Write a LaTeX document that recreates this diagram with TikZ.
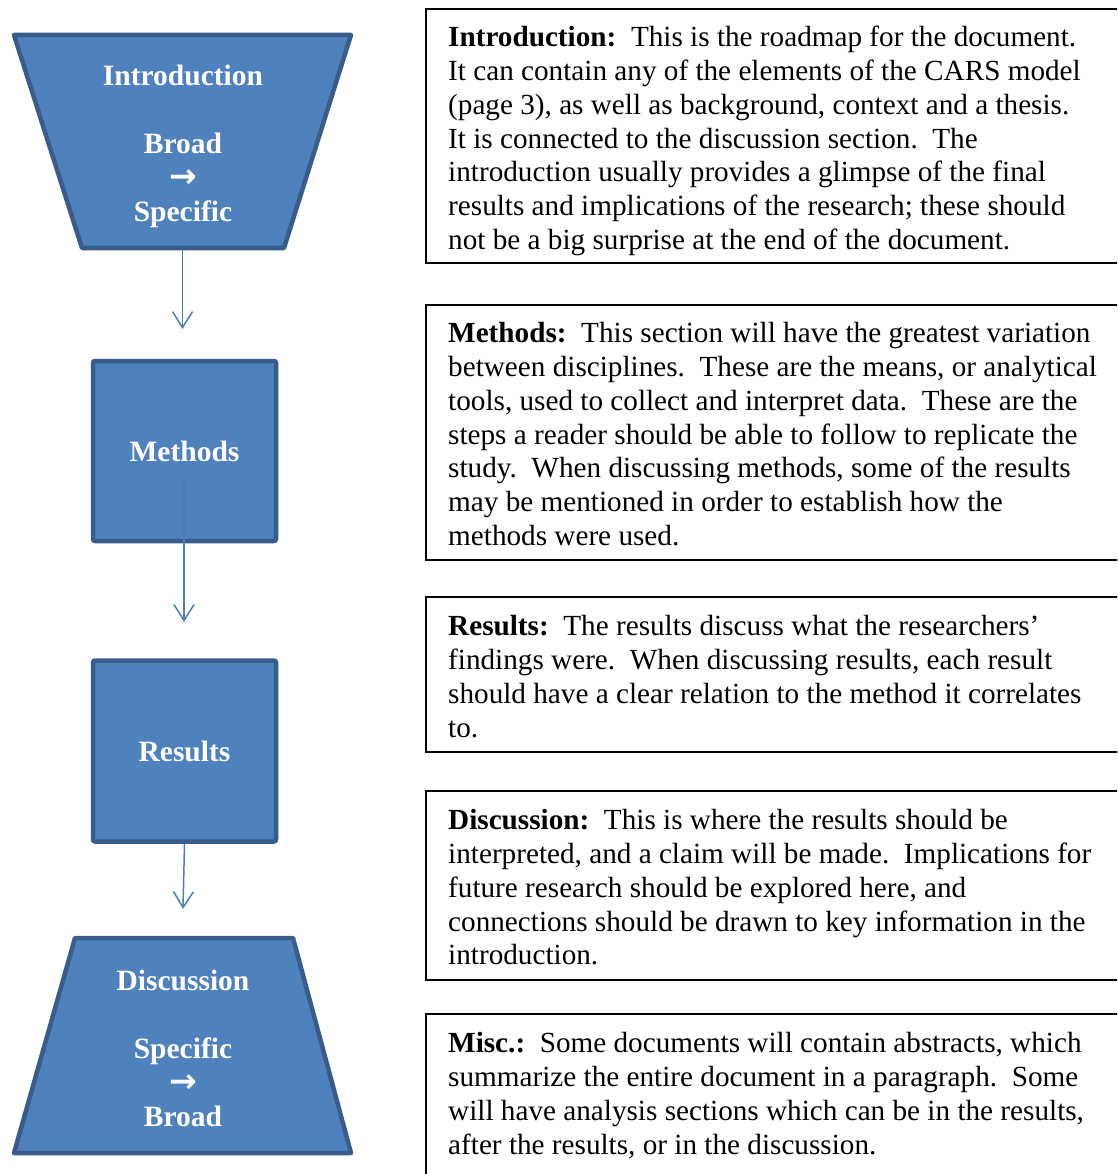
\documentclass[tikz,border=0pt]{standalone}
\usepackage{fontspec}
\setmainfont{Liberation Serif}
\newfontfamily\arrowfont{DejaVu Sans}
\usetikzlibrary{arrows.meta}
\definecolor{shapefill}{HTML}{4F81BD}
\definecolor{shapeedge}{HTML}{385D8A}
\definecolor{connblue}{HTML}{4A7EBB}
\newcommand{\flowarrow}{{\arrowfont\bfseries\fontsize{33}{34}\selectfont →}}
\begin{document}
\begin{tikzpicture}[x=1pt,y=-1pt,
  shapestyle/.style={fill=shapefill,draw=shapeedge,line width=4.5pt,line join=round},
  boxlabel/.style={text=white,font=\bfseries\fontsize{29.5}{34}\selectfont,align=center,inner sep=0pt},
  conn/.style={draw=connblue,line width=1.5pt,-{Straight Barb[length=16pt,width=20pt]}},
  descbox/.style={draw=black,line width=2pt},
  desctext/.style={anchor=north west,inner sep=0pt,align=left,font=\fontsize{29.2}{33.8}\selectfont}]
\useasboundingbox (0,0) rectangle (1117,1174);
\clip (0,0) rectangle (1117,1174);

% ---------- right description boxes ----------
\draw[descbox] (426,9) rectangle (1140,263);
\draw[descbox] (426,305) rectangle (1140,560);
\draw[descbox] (426,597) rectangle (1140,752);
\draw[descbox] (426,791) rectangle (1140,980);
\draw[descbox] (426,1014) rectangle (1140,1200);

\node[desctext] (t1) at (448,22.8) {\strut\textbf{Introduction:}\ \ This is the roadmap for the document.\\
It can contain any of the elements of the CARS model\\
(page 3), as well as background, context and a thesis.\\
It is connected to the discussion section.\ \ The\\
introduction usually provides a glimpse of the final\\
results and implications of the research; these should\\
not be a big surprise at the end of the document.};

\node[desctext] (t2) at (448,318.8) {\strut\textbf{Methods:}\ \ This section will have the greatest variation\\
between disciplines.\ \ These are the means, or analytical\\
tools, used to collect and interpret data.\ \ These are the\\
steps a reader should be able to follow to replicate the\\
study.\ \ When discussing methods, some of the results\\
may be mentioned in order to establish how the\\
methods were used.};

\node[desctext] (t3) at (448,611.8) {\strut\textbf{Results:}\ \ The results discuss what the researchers’\\
findings were.\ \ When discussing results, each result\\
should have a clear relation to the method it correlates\\
to.};

\node[desctext] (t4) at (448,805.8) {\strut\textbf{Discussion:}\ \ This is where the results should be\\
interpreted, and a claim will be made.\ \ Implications for\\
future research should be explored here, and\\
connections should be drawn to key information in the\\
introduction.};

\node[desctext] (t5) at (448,1028.8) {\strut\textbf{Misc.:}\ \ Some documents will contain abstracts, which\\
summarize the entire document in a paragraph.\ \ Some\\
will have analysis sections which can be in the results,\\
after the results, or in the discussion.};

% ---------- left flow shapes ----------
\filldraw[shapestyle] (14,35) -- (351,35) -- (284,248) -- (82,248) -- cycle;
\node[inner sep=0pt,minimum width=341pt,minimum height=217pt] (intro) at (182.5,141.5) {};
\node[boxlabel,anchor=north] (introtext) at (183,61.2)
  {\strut Introduction\\~\\Broad\\\flowarrow\\Specific};

\node[shapestyle,boxlabel,rounded corners=2pt,minimum width=183pt,minimum height=180pt]
  (methods) at (184.5,451) {Methods};

\node[shapestyle,boxlabel,rounded corners=2pt,minimum width=183pt,minimum height=181pt]
  (results) at (184.5,751) {Results};

\filldraw[shapestyle] (75,938) -- (293,938) -- (351,1153) -- (14,1153) -- cycle;
\node[inner sep=0pt,minimum width=341pt,minimum height=219pt] (discussion) at (182.5,1045.5) {};
\node[boxlabel,anchor=north] (disctext) at (183,966.2)
  {\strut Discussion\\~\\Specific\\\flowarrow\\Broad};

% ---------- connectors ----------
\coordinate (a1end) at (182.5,329);
\coordinate (m0) at (184,480);
\coordinate (a2end) at (184,622);
\coordinate (a3end) at (183,909);
\draw[conn] (intro.south) -- (a1end);
\draw[conn] (m0) -- (a2end);
\draw[conn] (results.south) -- (a3end);
\end{tikzpicture}
\end{document}
